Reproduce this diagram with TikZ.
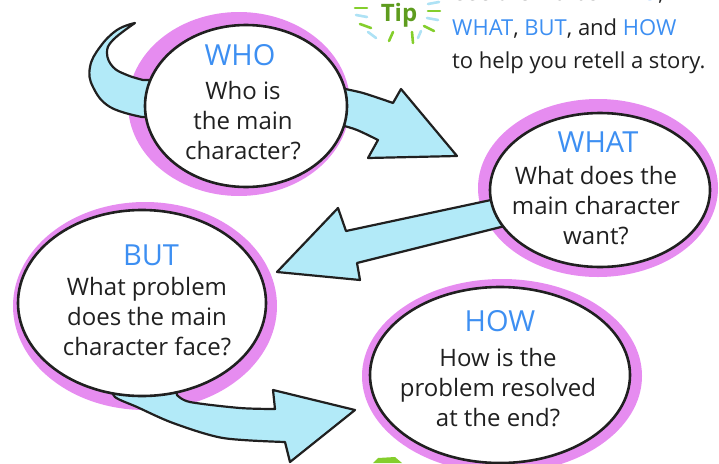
\documentclass[tikz,border=0pt]{standalone}
\usepackage{fontspec}
\setmainfont{Open Sans}

\definecolor{ringpink}{HTML}{E68CF0}
\definecolor{arrowblue}{HTML}{B2EAF8}
\definecolor{headblue}{HTML}{3D8FF2}
\definecolor{inkblack}{HTML}{202020}
\definecolor{tipgreen}{HTML}{5E9C1E}
\definecolor{raygreen}{HTML}{84CE2C}
\definecolor{rayblue}{HTML}{AEE2F5}

\newcommand{\fsz}[2]{\fontsize{#1}{#2}\selectfont}

\tikzset{
  ring/.style={fill=ringpink},
  bubble/.style={draw=inkblack, fill=white, line width=2.6pt},
  blockarrow/.style={draw=inkblack, fill=arrowblue, line width=2.2pt, line join=round},
  head/.style={text=headblue, font=\fsz{29}{34}, inner sep=0pt},
  body/.style={text=inkblack, font=\fsz{24}{30}, align=center, inner sep=0pt},
  note/.style={text=inkblack, font=\fsz{22}{26}, inner sep=0pt},
  ray/.style={line width=2.6pt, line cap=round},
}

\begin{document}
\begin{tikzpicture}[x=1pt,y=-1pt]
\useasboundingbox (0,0) rectangle (719,463);
\clip (0,0) rectangle (719,463);

\coordinate (who) at (246,106);
\coordinate (what) at (600,190);
\coordinate (but) at (142,303);
\coordinate (how) at (500,375);

% pink rings behind the bubbles
\fill[ring] (239,104) ellipse [x radius=111pt, y radius=92pt];
\fill[ring] (598,188) ellipse [x radius=120pt, y radius=89pt];
\fill[ring] (145,306) ellipse [x radius=132pt, y radius=104pt];
\fill[ring] (502,376) ellipse [x radius=140pt, y radius=97pt];

% arrows
\filldraw[blockarrow] plot[smooth, tension=0.7] coordinates {(135,23) (117,30) (100,47) (90,67) (93,87) (110,107) (142,117)}
  -- (165,118) -- (165,80)
  -- plot[smooth, tension=0.7] coordinates {(143,80) (127,75) (113,67) (107,53) (113,40) (135,23)} -- cycle;

\filldraw[blockarrow] (320,85) -- plot[smooth] coordinates {(340,88) (363,93) (393,103)}
  -- (401,89) -- (457,156) -- (368,158) -- (378,140)
  -- plot[smooth] coordinates {(378,140) (357,130) (340,125) (320,122)} -- cycle;

\filldraw[blockarrow] (505,197) -- (346,231) -- (338,208) -- (277,272) -- (360,280) -- (357,263) -- (505,226) -- cycle;

\filldraw[blockarrow] (175,385) -- plot[smooth] coordinates {(177,395) (190,402) (240,408) (275,409)}
  -- (273,390) -- (355,410) -- (290,462) -- (285,442)
  -- plot[smooth] coordinates {(285,442) (223,438) (173,423) (137,407) (115,397) (110,385)} -- cycle;

% bubbles
\draw[bubble] (who) ellipse [x radius=101pt, y radius=81pt];
\draw[bubble] (what) ellipse [x radius=110pt, y radius=77pt];
\draw[bubble] (but) ellipse [x radius=124pt, y radius=93pt];
\draw[bubble] (how) ellipse [x radius=130pt, y radius=88pt];

\node[head] (whohead) at (240,55) {WHO};
\node[body] (whobody) at (243,121) {Who is\\the main\\character?};

\node[head] (whathead) at (598,142) {WHAT};
\node[body] (whatbody) at (596,206) {What does the\\main character\\want?};

\node[head] (buthead) at (151,255) {BUT};
\node[body] (butbody) at (147,317) {What problem\\does the main\\character face?};

\node[head] (howhead) at (500,321) {HOW};
\node[body] (howbody) at (498,388) {How is the\\problem resolved\\at the end?};

% tip badge
\foreach \xa/\ya/\xb/\yb/\col in {355/8/367/8/raygreen, 356/15/367/17/rayblue, 360/24/371/28/raygreen,
    368/32/376/38/rayblue, 393/32/389/41/raygreen, 412/32/413/43/raygreen, 421/31/418/38/rayblue,
    428/4/439/2/rayblue, 428/11/440/11/raygreen, 427/18/438/20/rayblue, 424/26/434/31/raygreen}
  \draw[ray, \col] (\xa,\ya) -- (\xb,\yb);
\node[text=tipgreen, font=\fsz{24}{28}\bfseries, inner sep=0pt, anchor=base] (tip) at (399,21) {Tip};

\node[note, anchor=base west] (noteA) at (452,1) {Use the words \textcolor{headblue}{WHO},};
\node[note, anchor=base west] (noteB) at (452,35) {\textcolor{headblue}{WHAT}, \textcolor{headblue}{BUT}, and \textcolor{headblue}{HOW}};
\node[note, anchor=base west] (noteC) at (452,68) {to help you retell a story.};

\fill[raygreen] (373,463) -- (378,458) -- (395,457) -- (402,463) -- cycle;

\end{tikzpicture}
\end{document}
